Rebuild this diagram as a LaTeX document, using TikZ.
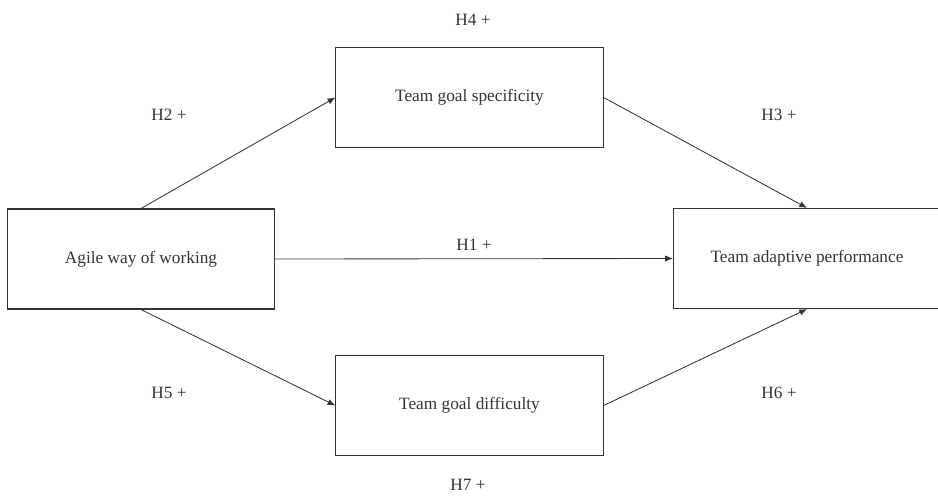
\documentclass[tikz,border=0pt]{standalone}
\usepackage{fontspec}
\usetikzlibrary{arrows.meta}
\setmainfont{Liberation Serif}
\definecolor{ink}{HTML}{333333}
\begin{document}
\begin{tikzpicture}[x=0.025cm, y=-0.025cm, >={Latex[length=5.5pt,width=4.5pt]},
  construct/.style={draw=ink, line width=0.75pt, text=ink, minimum width=6.68cm, minimum height=2.5cm, font=\fontsize{12.3}{14}\selectfont},
  hyp/.style={text=ink, font=\fontsize{12.3}{14}\selectfont},
  path/.style={->, draw=ink, line width=0.6pt}]
\useasboundingbox (0,0) rectangle (938,495);
\clip (0,0) rectangle (938,495);
\node[construct] (agile) at (141,259) {Agile way of working};
\node[construct] (spec) at (469.5,97.5) {Team goal specificity};
\node[construct] (diff) at (469.5,405.5) {Team goal difficulty};
\node[construct] (perf) at (807,258.5) {Team adaptive performance};
\draw[path] (agile.north) -- (spec.west);
\draw[path] (spec.east) -- (perf.north);
\draw[path] (agile.south) -- (diff.west);
\draw[path] (diff.east) -- (perf.south);
\draw[path] (agile.east) -- node[hyp, above=2pt] (h1) {H1 +} (perf.west);
\node[hyp] (h2) at (169,115) {H2 +};
\node[hyp] (h3) at (779,115) {H3 +};
\node[hyp] (h4) at (473,20) {H4 +};
\node[hyp] (h5) at (169,393) {H5 +};
\node[hyp] (h6) at (779,393) {H6 +};
\node[hyp] (h7) at (468,485) {H7 +};
\end{tikzpicture}
\end{document}
